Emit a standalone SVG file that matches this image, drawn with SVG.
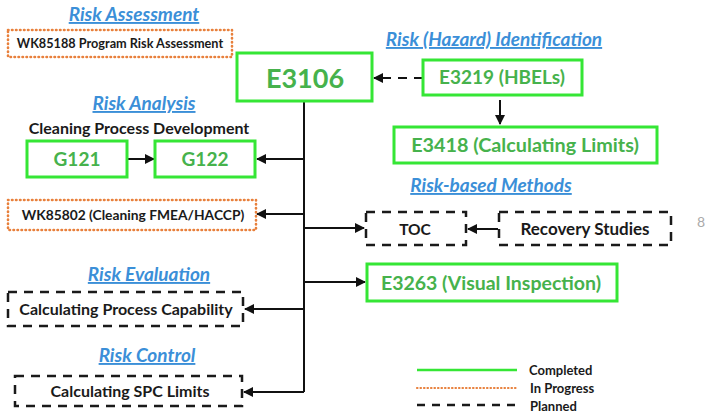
<svg xmlns="http://www.w3.org/2000/svg" width="705" height="413" viewBox="0 0 705 413">
  <defs>
    <marker id="arrow" viewBox="0 0 10 10" refX="9" refY="5" markerWidth="5" markerHeight="5" orient="auto" markerUnits="strokeWidth">
      <path d="M0,0 L10,5 L0,10 z" fill="#111"/>
    </marker>
    <style>
      text { font-family: Lato, "Open Sans", "Liberation Sans", sans-serif; font-weight: bold; text-anchor: middle; }
      .title { fill: #3b8fd8; font-style: italic; font-size: 19px; text-decoration: underline; }
      .done { fill: #fff; stroke: #35e635; stroke-width: 3; }
      .prog { fill: #fff; stroke: #e8803c; stroke-width: 2.6; stroke-dasharray: 0.5 3.5; stroke-linecap: round; }
      .plan { fill: #fff; stroke: #1a1a1a; stroke-width: 2.5; stroke-dasharray: 9 7; }
      .gtxt { fill: #46b24c; }
      .ktxt { fill: #1a1a1a; }
      .key { fill: #1a1a1a; font-size: 13px; text-anchor: start; }
      .link { stroke: #111; stroke-width: 2; fill: none; }
    </style>
  </defs>
  <rect width="705" height="413" fill="#fff"/>

  <!-- section headings -->
  <g id="headings">
    <text class="title" x="134" y="21" font-size="17">Risk Assessment</text>
    <text class="title" x="494" y="46">Risk (Hazard) Identification</text>
    <text class="title" x="144" y="110">Risk Analysis</text>
    <text class="title" x="491" y="192">Risk-based Methods</text>
    <text class="title" x="149" y="281">Risk Evaluation</text>
    <text class="title" x="147" y="362">Risk Control</text>
    <text class="ktxt" x="139" y="134" font-size="16">Cleaning Process Development</text>
  </g>

  <!-- connectors -->
  <g id="connectors">
    <line class="link" x1="304" y1="101" x2="304" y2="392"/>
    <line class="link" x1="423" y1="78" x2="374" y2="78" stroke-dasharray="9 7" marker-end="url(#arrow)"/>
    <line class="link" x1="500" y1="100" x2="500" y2="124" marker-end="url(#arrow)"/>
    <line class="link" x1="127" y1="159" x2="154" y2="159" marker-end="url(#arrow)"/>
    <line class="link" x1="304" y1="159" x2="257" y2="159" marker-end="url(#arrow)"/>
    <line class="link" x1="304" y1="214" x2="257" y2="214" marker-end="url(#arrow)"/>
    <line class="link" x1="304" y1="228" x2="364" y2="228" marker-end="url(#arrow)"/>
    <line class="link" x1="498" y1="229" x2="468" y2="229" marker-end="url(#arrow)"/>
    <line class="link" x1="304" y1="282" x2="365" y2="282" marker-end="url(#arrow)"/>
    <line class="link" x1="304" y1="309" x2="245" y2="309" marker-end="url(#arrow)"/>
    <line class="link" x1="304" y1="392" x2="244" y2="392" marker-end="url(#arrow)"/>
  </g>

  <g id="wk85188">
    <rect class="prog" x="8" y="30" width="224" height="27"/>
    <text class="ktxt" x="120" y="48" font-size="12.7">WK85188 Program Risk Assessment</text>
  </g>

  <g id="e3106">
    <rect class="done" x="237" y="53" width="135" height="48"/>
    <text class="gtxt" x="305" y="88" font-size="27">E3106</text>
  </g>

  <g id="e3219">
    <rect class="done" x="423" y="60" width="159" height="35"/>
    <text class="gtxt" x="502" y="84" font-size="19">E3219 (HBELs)</text>
  </g>

  <g id="e3418">
    <rect class="done" x="394" y="127" width="263" height="36"/>
    <text class="gtxt" x="525" y="152" font-size="19.8">E3418 (Calculating Limits)</text>
  </g>

  <g id="g121">
    <rect class="done" x="27" y="141" width="100" height="36"/>
    <text class="gtxt" x="77" y="166" font-size="19">G121</text>
  </g>

  <g id="g122">
    <rect class="done" x="155" y="141" width="100" height="36"/>
    <text class="gtxt" x="205" y="166" font-size="19">G122</text>
  </g>

  <g id="wk85802">
    <rect class="prog" x="8" y="200" width="248" height="30"/>
    <text class="ktxt" x="133" y="220" font-size="13.8">WK85802 (Cleaning FMEA/HACCP)</text>
  </g>

  <g id="toc">
    <rect class="plan" x="366" y="212" width="100" height="33"/>
    <text class="ktxt" x="415" y="235" font-size="15.5">TOC</text>
  </g>

  <g id="recovery">
    <rect class="plan" x="499" y="212" width="172" height="33"/>
    <text class="ktxt" x="585" y="235" font-size="17">Recovery Studies</text>
  </g>

  <g id="e3263">
    <rect class="done" x="367" y="264" width="250" height="37"/>
    <text class="gtxt" x="491" y="290" font-size="19.5">E3263 (Visual Inspection)</text>
  </g>

  <g id="capability">
    <rect class="plan" x="8" y="292" width="235" height="34"/>
    <text class="ktxt" x="126" y="315" font-size="16">Calculating Process Capability</text>
  </g>

  <g id="spc">
    <rect class="plan" x="15" y="376" width="227" height="30"/>
    <text class="ktxt" x="130" y="397" font-size="16">Calculating SPC Limits</text>
  </g>

  <!-- status key -->
  <g id="legend">
    <line x1="417" y1="370" x2="517" y2="370" stroke="#35e635" stroke-width="2.5"/>
    <line x1="417" y1="388" x2="517" y2="388" stroke="#e8803c" stroke-width="2.2" stroke-linecap="round" stroke-dasharray="0.5 3"/>
    <line x1="417" y1="405" x2="517" y2="405" stroke="#1a1a1a" stroke-width="2.5" stroke-dasharray="8 7"/>
    <text class="key" x="529" y="375">Completed</text>
    <text class="key" x="530" y="393">In Progress</text>
    <text class="key" x="530" y="411">Planned</text>
  </g>

  <text x="697" y="227" font-size="14" fill="#aaa" style="text-anchor:start;font-weight:normal">8</text>
</svg>
